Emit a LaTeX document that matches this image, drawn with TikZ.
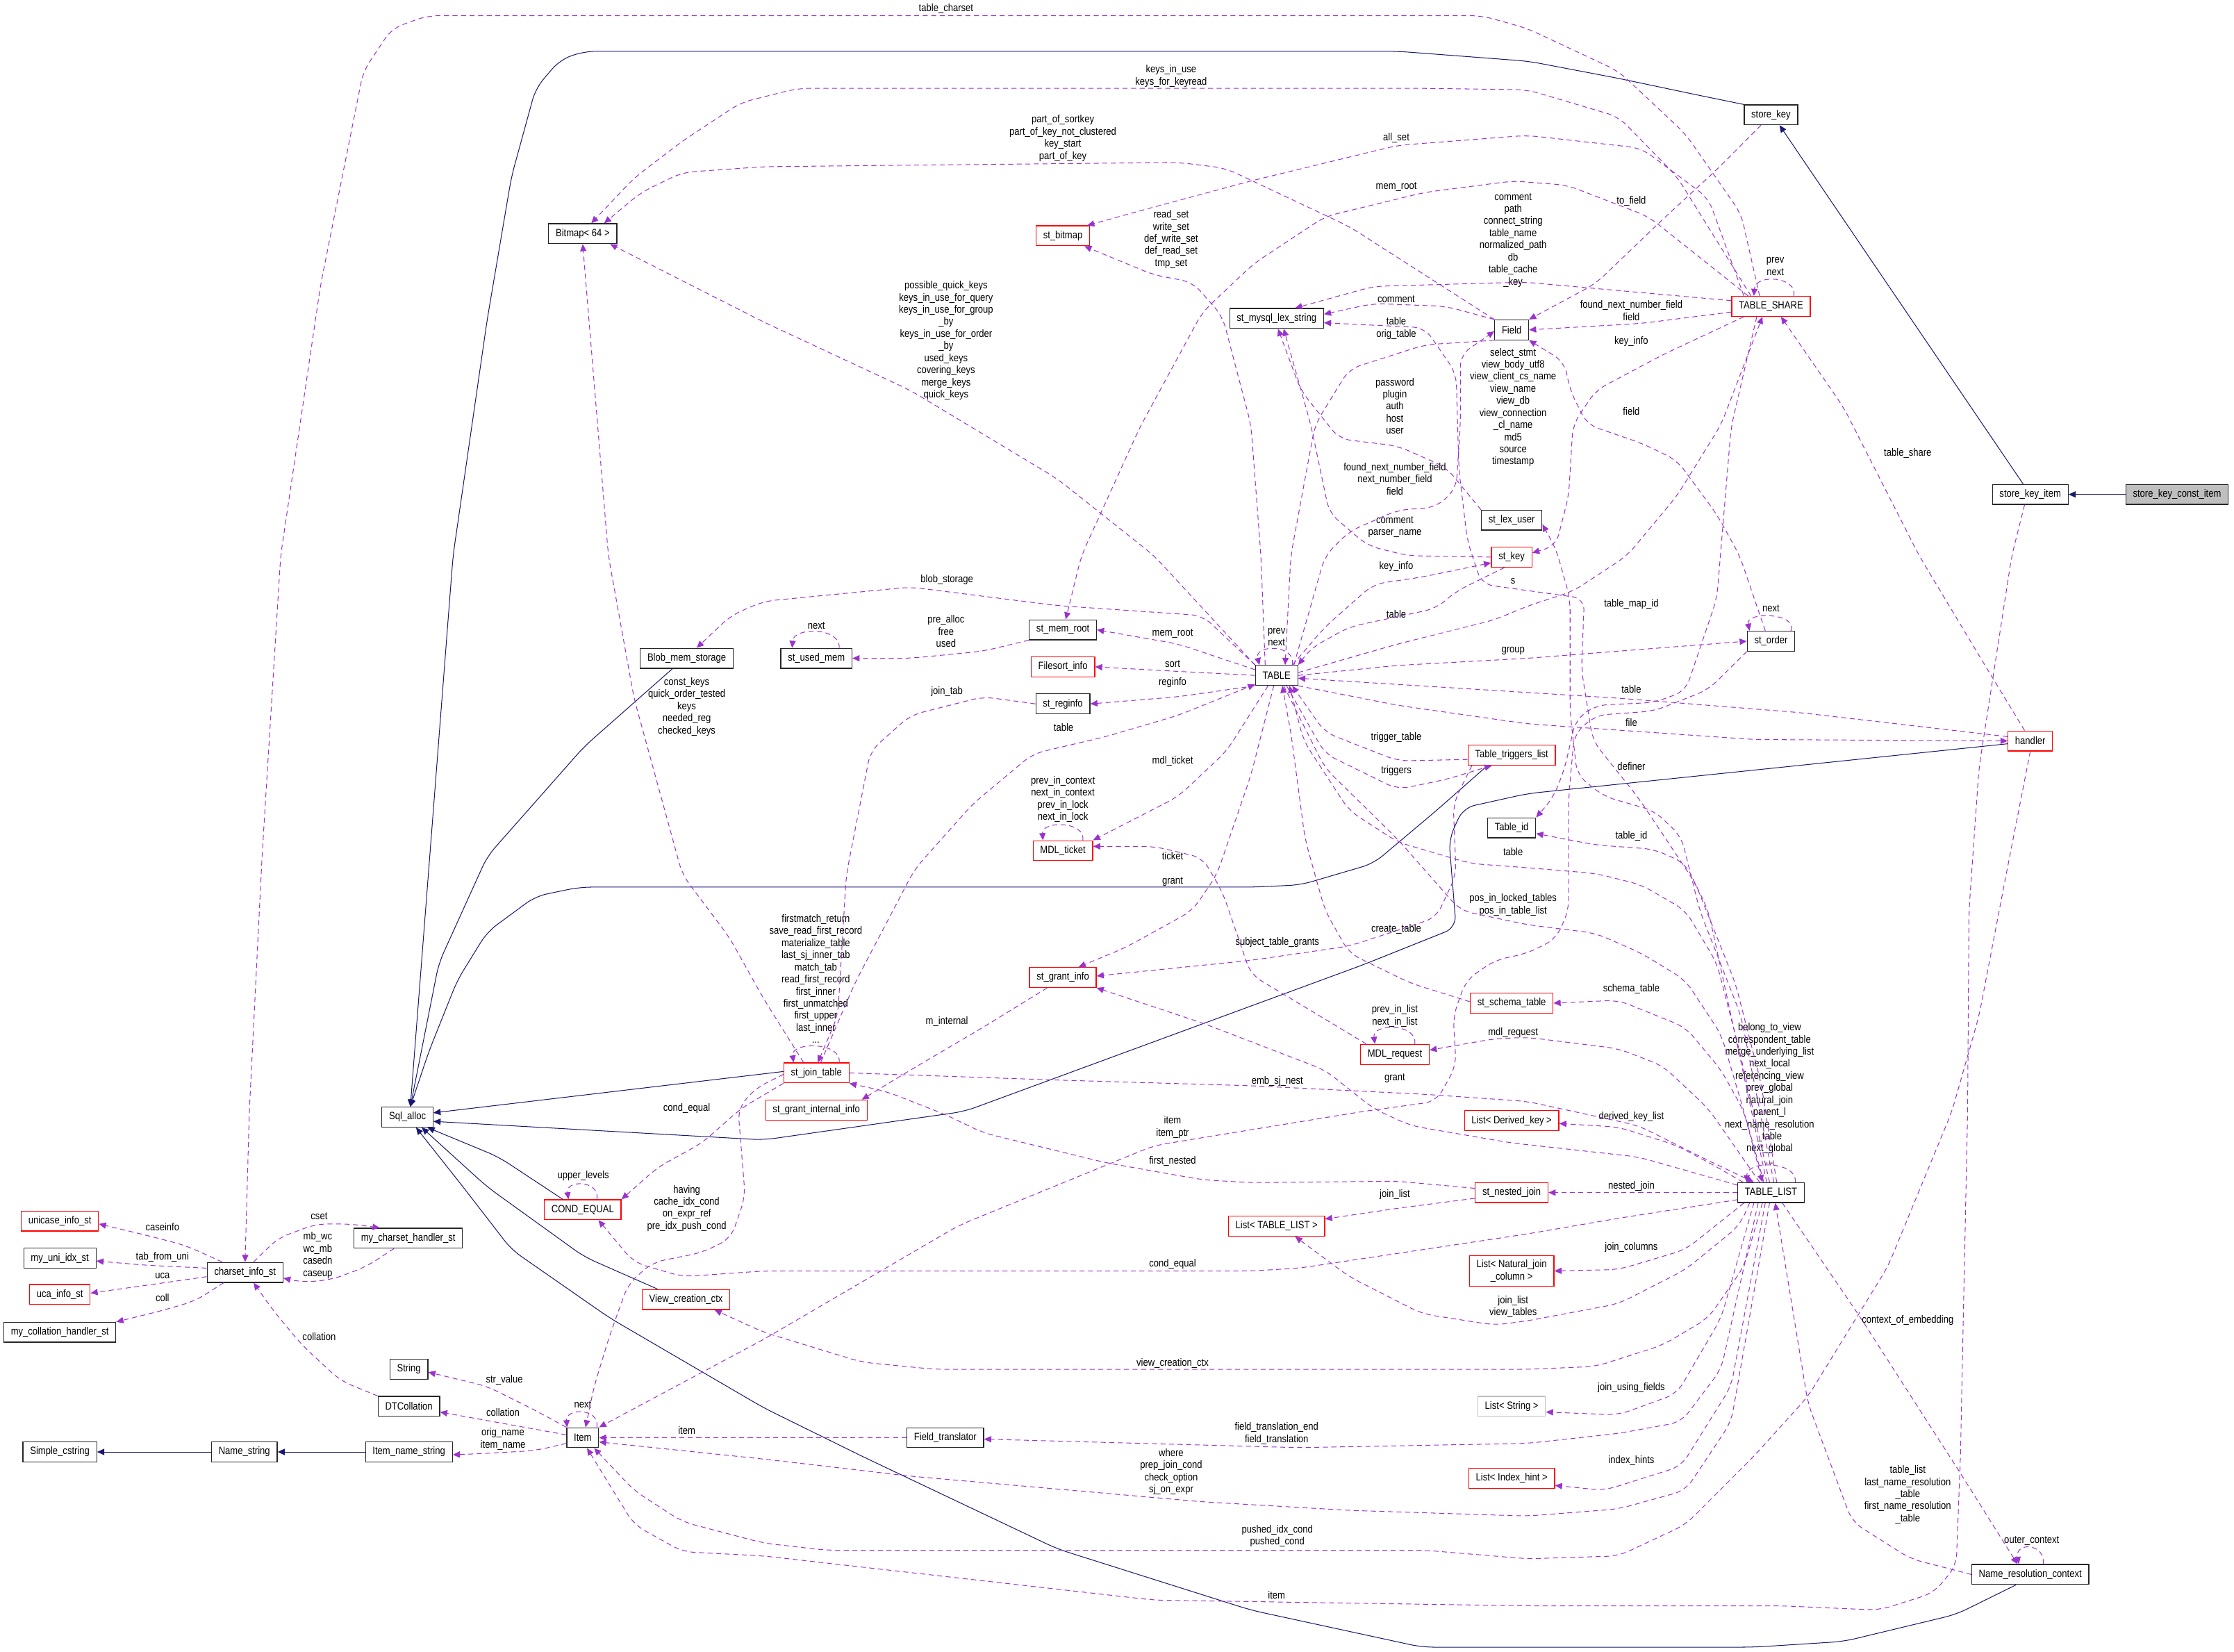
\documentclass[tikz,border=0pt]{standalone}
\usepackage{fontspec}
\setmainfont{Liberation Sans}[FakeStretch=0.86]
\usetikzlibrary{arrows.meta}
\definecolor{memcol}{HTML}{9A32CD}
\definecolor{inhcol}{HTML}{191970}
\definecolor{boxred}{HTML}{FF0000}
\definecolor{boxgray}{HTML}{BFBFBF}

\begin{document}
\begin{tikzpicture}[x=1pt, y=-1pt,
    every node/.style={font=\fontsize{7.4}{8.5}\selectfont},
    cls/.style={draw=black!85, line width=0.6pt, minimum height=14pt, inner xsep=5pt, inner ysep=1pt},
    clsred/.style={cls, draw=boxred},
    lbl/.style={align=center, inner sep=0pt},
    memb/.style={draw=memcol, line width=0.5pt, dash pattern=on 3.5pt off 2.5pt, rounded corners=8pt, -{Triangle[length=5pt, width=4.4pt]}},
    inh/.style={draw=inhcol, line width=0.5pt, rounded corners=8pt, -{Triangle[length=5pt, width=4.4pt]}}]
    \useasboundingbox (0,0) rectangle (1568,1159);

    \node[cls] (bitmap) at (409,164) {Bitmap< 64 >};
    \node[clsred] (stbitmap) at (746,165.5) {st\_bitmap};
    \node[cls] (storekey) at (1243,80.6) {store\_key};
    \node[clsred] (tableshare) at (1243,215) {TABLE\_SHARE};
    \node[cls] (lexstring) at (896,223.5) {st\_mysql\_lex\_string};
    \node[cls] (field) at (1061,231.5) {Field};
    \node[cls] (lexuser) at (1061,365) {st\_lex\_user};
    \node[clsred] (stkey) at (1061,391) {st\_key};
    \node[cls] (storekeyitem) at (1425,347) {store\_key\_item};
    \node[cls, fill=boxgray] (storekeyconst) at (1528,347) {store\_key\_const\_item};
    \node[cls] (memroot) at (746,442) {st\_mem\_root};
    \node[cls] (usedmem) at (573,462) {st\_used\_mem};
    \node[cls] (blobstorage) at (482,462) {Blob\_mem\_storage};
    \node[cls] (table) at (896,474) {TABLE};
    \node[cls] (storder) at (1243,450) {st\_order};
    \node[clsred] (filesort) at (746,468) {Filesort\_info};
    \node[cls] (reginfo) at (746,494) {st\_reginfo};
    \node[clsred] (handler) at (1425,520) {handler};
    \node[clsred] (triggers) at (1061,530) {Table\_triggers\_list};
    \node[cls] (tableid) at (1061,581) {Table\_id};
    \node[clsred] (mdlticket) at (746,597) {MDL\_ticket};
    \node[clsred] (grantinfo) at (746,686) {st\_grant\_info};
    \node[clsred] (schematable) at (1061,704) {st\_schema\_table};
    \node[clsred] (mdlrequest) at (979,740) {MDL\_request};
    \node[clsred] (jointable) at (573,753) {st\_join\_table};
    \node[clsred] (grantinternal) at (573,779) {st\_grant\_internal\_info};
    \node[cls] (sqlalloc) at (286,784) {Sql\_alloc};
    \node[clsred] (derivedkey) at (1061,786.5) {List< Derived\_key >};
    \node[cls] (tablelist) at (1243,837) {TABLE\_LIST};
    \node[clsred] (nestedjoin) at (1061,837) {st\_nested\_join};
    \node[clsred] (condequal) at (409,849) {COND\_EQUAL};
    \node[clsred] (listtablelist) at (896,860.5) {List< TABLE\_LIST >};
    \node[clsred, align=center, inner ysep=3pt] (naturaljoin) at (1061,892) {List< Natural\_join\\\_column >};
    \node[clsred] (unicase) at (42,857) {unicase\_info\_st};
    \node[cls] (uniidx) at (42,883) {my\_uni\_idx\_st};
    \node[cls] (charsetinfo) at (172,893) {charset\_info\_st};
    \node[cls] (charsethandler) at (286.5,869) {my\_charset\_handler\_st};
    \node[clsred] (ucainfo) at (42,908.5) {uca\_info\_st};
    \node[cls] (collhandler) at (42,935) {my\_collation\_handler\_st};
    \node[clsred] (viewctx) at (481.5,912) {View\_creation\_ctx};
    \node[cls] (string) at (287,961) {String};
    \node[cls] (dtcollation) at (287,987) {DTCollation};
    \node[cls] (item) at (409,1009) {Item};
    \node[cls] (simplecstring) at (42,1019) {Simple\_cstring};
    \node[cls] (namestring) at (171.5,1019) {Name\_string};
    \node[cls] (itemnamestring) at (287,1019) {Item\_name\_string};
    \node[cls] (fieldtranslator) at (663.5,1009) {Field\_translator};
    \node[cls, draw=boxgray] (liststring) at (1061,987) {List< String >};
    \node[clsred] (indexhint) at (1061,1037.5) {List< Index\_hint >};
    \node[cls] (nrcontext) at (1425,1105) {Name\_resolution\_context};

    \node[lbl] (ltablecharset) at (664,6) {table\_charset};
    \node[lbl] (lkeysinuse) at (822,53.4) {keys\_in\_use\\keys\_for\_keyread};
    \node[lbl] (lpartofkey) at (746,97) {part\_of\_sortkey\\part\_of\_key\_not\_clustered\\key\_start\\part\_of\_key};
    \node[lbl] (lallset) at (980,97) {all\_set};
    \node[lbl] (lmemroota) at (980,131) {mem\_root};
    \node[lbl] (ltofield) at (1145,141) {to\_field};
    \node[lbl] (lreadset) at (822,168) {read\_set\\write\_set\\def\_write\_set\\def\_read\_set\\tmp\_set};
    \node[lbl] (lsharestr) at (1062,168.6) {comment\\path\\connect\_string\\table\_name\\normalized\_path\\db\\table\_cache\\\_key};
    \node[lbl] (lshareloop) at (1246,187) {prev\\next};
    \node[lbl] (lsharefield) at (1145,218) {found\_next\_number\_field\\field};
    \node[lbl] (lfieldcomment) at (980,210) {comment};
    \node[lbl] (lfieldtable) at (980,230.5) {table\\orig\_table};
    \node[lbl] (lsharekey) at (1145,239.5) {key\_info};
    \node[lbl] (llistview) at (1062,286) {select\_stmt\\view\_body\_utf8\\view\_client\_cs\_name\\view\_name\\view\_db\\view\_connection\\\_cl\_name\\md5\\source\\timestamp};
    \node[lbl] (lquickkeys) at (664,239) {possible\_quick\_keys\\keys\_in\_use\_for\_query\\keys\_in\_use\_for\_group\\\_by\\keys\_in\_use\_for\_order\\\_by\\used\_keys\\covering\_keys\\merge\_keys\\quick\_keys};
    \node[lbl] (luser) at (979,285) {password\\plugin\\auth\\host\\user};
    \node[lbl] (lorderfield) at (1145,288.5) {field};
    \node[lbl] (ltablefield) at (979,336) {found\_next\_number\_field\\next\_number\_field\\field};
    \node[lbl] (ltableshare) at (1339,318) {table\_share};
    \node[lbl] (lkeycomment) at (979,370) {comment\\parser\_name};
    \node[lbl] (ltablekey) at (980,397.5) {key\_info};
    \node[lbl] (ls) at (1062,408) {s};
    \node[lbl] (lkeytable) at (980,431) {table};
    \node[lbl] (lmapid) at (1145,424) {table\_map\_id};
    \node[lbl] (lorderloop) at (1243,427) {next};
    \node[lbl] (lblob) at (664.6,407) {blob\_storage};
    \node[lbl] (lusedloop) at (573,439) {next};
    \node[lbl] (lprealloc) at (664,443) {pre\_alloc\\free\\used};
    \node[lbl] (lmemrootb) at (823,444.5) {mem\_root};
    \node[lbl] (ltableloop) at (896,447) {prev\\next};
    \node[lbl] (lgroup) at (1062,457) {group};
    \node[lbl] (lsort) at (823,466) {sort};
    \node[lbl] (lreginfo) at (823,479) {reginfo};
    \node[lbl] (lhandlertable) at (1145,483.6) {table};
    \node[lbl] (lfile) at (1145,507) {file};
    \node[lbl] (ljointab) at (664.6,485.6) {join\_tab};
    \node[lbl] (lconstkeys) at (482,496) {const\_keys\\quick\_order\_tested\\keys\\needed\_reg\\checked\_keys};
    \node[lbl] (ljointable) at (746.5,510.7) {table};
    \node[lbl] (ltriggertable) at (980,517.8) {trigger\_table};
    \node[lbl] (ltriggers) at (980,541) {triggers};
    \node[lbl] (ldefiner) at (1145,538) {definer};
    \node[lbl] (lmdlticket) at (823,534) {mdl\_ticket};
    \node[lbl] (lticketloop) at (746,561) {prev\_in\_context\\next\_in\_context\\prev\_in\_lock\\next\_in\_lock};
    \node[lbl] (ltableid) at (1145,587) {table\_id};
    \node[lbl] (lticket) at (823,600.6) {ticket};
    \node[lbl] (llisttable) at (1062,598) {table};
    \node[lbl] (lgranta) at (823,619) {grant};
    \node[lbl] (lposin) at (1062,635) {pos\_in\_locked\_tables\\pos\_in\_table\_list};
    \node[lbl] (lcreate) at (980,652) {create\_table};
    \node[lbl] (lsubject) at (896.5,661.6) {subject\_table\_grants};
    \node[lbl] (ljoinloop) at (572.6,687) {firstmatch\_return\\save\_read\_first\_record\\materialize\_table\\last\_sj\_inner\_tab\\match\_tab\\read\_first\_record\\first\_inner\\first\_unmatched\\first\_upper\\last\_inner\\...};
    \node[lbl] (lschema) at (1145,694) {schema\_table};
    \node[lbl] (lminternal) at (664.6,717) {m\_internal};
    \node[lbl] (lrequestloop) at (979,713) {prev\_in\_list\\next\_in\_list};
    \node[lbl] (lmdlrequest) at (1062,725) {mdl\_request};
    \node[lbl] (llistloop) at (1242,767.4) {belong\_to\_view\\correspondent\_table\\merge\_underlying\_list\\next\_local\\referencing\_view\\prev\_global\\natural\_join\\parent\_l\\next\_name\_resolution\\\_table\\next\_global\\...};
    \node[lbl] (lembsj) at (896.5,759) {emb\_sj\_nest};
    \node[lbl] (lgrantb) at (979,757) {grant};
    \node[lbl] (lcondequala) at (482,778) {cond\_equal};
    \node[lbl] (litemptr) at (823,791) {item\\item\_ptr};
    \node[lbl] (lderived) at (1145,784) {derived\_key\_list};
    \node[lbl] (lfirstnested) at (823,815) {first\_nested};
    \node[lbl] (lnestedjoin) at (1145,832.5) {nested\_join};
    \node[lbl] (ljoinlist) at (979,838.6) {join\_list};
    \node[lbl] (lupper) at (409.4,825) {upper\_levels};
    \node[lbl] (lhaving) at (482,848) {having\\cache\_idx\_cond\\on\_expr\_ref\\pre\_idx\_push\_cond};
    \node[lbl] (ljoincols) at (1145,875.5) {join\_columns};
    \node[lbl] (lcondequalb) at (823,887) {cond\_equal};
    \node[lbl] (lviewtables) at (1062,917) {join\_list\\view\_tables};
    \node[lbl] (lcontext) at (1339,926.5) {context\_of\_embedding};
    \node[lbl] (lviewctx) at (823,957) {view\_creation\_ctx};
    \node[lbl] (lcset) at (224,853.5) {cset};
    \node[lbl] (lcaseinfo) at (114,861) {caseinfo};
    \node[lbl] (lmbwc) at (223,881) {mb\_wc\\wc\_mb\\casedn\\caseup};
    \node[lbl] (ltabfromuni) at (114,882) {tab\_from\_uni};
    \node[lbl] (luca) at (114,895.6) {uca};
    \node[lbl] (lcoll) at (114,911) {coll};
    \node[lbl] (lcollationa) at (224,938) {collation};
    \node[lbl] (lstrvalue) at (354,968.6) {str\_value};
    \node[lbl] (lcollationb) at (353,991) {collation};
    \node[lbl] (litemloop) at (409,985.5) {next};
    \node[lbl] (lusing) at (1145,974) {join\_using\_fields};
    \node[lbl] (litemft) at (482,1004) {item};
    \node[lbl] (lfieldtrans) at (896,1006) {field\_translation\_end\\field\_translation};
    \node[lbl] (lorigname) at (353,1010) {orig\_name\\item\_name};
    \node[lbl] (lwhere) at (822,1033) {where\\prep\_join\_cond\\check\_option\\sj\_on\_expr};
    \node[lbl] (lindexhints) at (1145,1025) {index\_hints};
    \node[lbl] (lnrtable) at (1339,1049) {table\_list\\last\_name\_resolution\\\_table\\first\_name\_resolution\\\_table};
    \node[lbl] (lpushed) at (896.5,1078) {pushed\_idx\_cond\\pushed\_cond};
    \node[lbl] (louter) at (1426,1081.6) {outer\_context};
    \node[lbl] (litemkey) at (896,1119.5) {item};

    \draw[inh] (storekeyconst.west) -- (storekeyitem.east);
    \draw[inh] ([xshift=-5pt]storekeyitem.north) -- ([xshift=6pt]storekey.south);
    \draw[inh] (storekey.north west) -- (1193,67) -- (1136,55) -- (1073,43) -- (981,36) -- (410,36) -- (393,42) -- (376,62) -- (359,124) -- (342,224) -- (318,390) -- ([xshift=2pt]sqlalloc.north);
    \draw[inh] ([xshift=-10pt]blobstorage.south) -- (410,524) -- (342,601) -- (308,676) -- ([xshift=2pt]sqlalloc.north);
    \draw[inh] ([xshift=-17pt]triggers.south) -- (1008,569) -- (964,606) -- (913,621) -- (880,622.6) -- (407,622.6) -- (376,629) -- (342,654) -- (321,688) -- (301,738) -- ([xshift=2pt]sqlalloc.north);
    \draw[inh] ([yshift=-2pt]handler.west) -- (1072,557) -- (1027,567) -- (1017,589) -- (1022,651) -- (957,677) -- (677,780) -- (536,800) -- ([yshift=-3pt]sqlalloc.east);
    \draw[inh] ([yshift=1pt]jointable.west) -- ([yshift=3pt]sqlalloc.east);
    \draw[inh] ([xshift=-14pt]condequal.north) -- (350,812) -- ([xshift=14pt]sqlalloc.south);
    \draw[inh] ([xshift=-20pt]viewctx.north) -- (410,882) -- (342,833) -- ([xshift=10pt]sqlalloc.south);
    \draw[inh] ([xshift=-10pt]nrcontext.south) -- (1373,1133) -- (1294,1152) -- (1231,1156) -- (998,1156) -- (878,1130) -- (742,1087) -- (605,1022) -- (536,988) -- (428,925) -- (359,877) -- (325,833) -- ([xshift=6pt]sqlalloc.south);
    \draw[inh] (namestring.west) -- (simplecstring.east);
    \draw[inh] (itemnamestring.west) -- (namestring.east);

    \draw[memb] ([xshift=-8pt]tableshare.north) -- (1222,150) -- (1183,94) -- (1136,50) -- (1072,20) -- (1040,11) -- (300,11) -- (275,20) -- (255,50) -- (225,200) -- (197,390) -- (184,600) -- (175,780) -- (charsetinfo.north);
    \draw[memb] ([xshift=-14pt]tableshare.north) -- (1177,124) -- (1136,82) -- (1072,63) -- (1000,62) -- (560,62) -- (520,72) -- (479,99) -- (445,125) -- ([xshift=6pt]bitmap.north);
    \draw[memb] (field.north west) -- (947,159) -- (860,118) -- (827,114) -- (536,117) -- (479,121) -- (450,135) -- ([xshift=15pt]bitmap.north);
    \draw[memb] ([xshift=-19pt]tableshare.north) -- (1199,139) -- (1152,104) -- (1072,95) -- (981,102) -- (878,127) -- (800,148) -- ([xshift=-2pt]stbitmap.north east);
    \draw[memb] ([xshift=-16pt]tableshare.north) -- (1157,152) -- (1100,130) -- (1062,127) -- (1000,135) -- (930,152) -- (880,185) -- (844,219) -- (800,300) -- (759,390) -- ([xshift=2pt]memroot.north);
    \draw[memb] ([xshift=-7pt]storekey.south) -- (1205,119) -- (1167,154) -- (1120,199) -- (field.north east);
    \draw[memb] ([xshift=-8pt]table.north) -- (885,390) -- (878,298) -- (858,222) -- (837,198) -- (810,193) -- ([xshift=-4pt]stbitmap.south east);
    \draw[memb] ([yshift=4pt]tableshare.west) -- (1070,198) -- (964,201) -- ([xshift=13pt]lexstring.north);
    \draw[memb] ([xshift=16pt]tableshare.north) .. controls (1262,194) and (1232,192) .. ([xshift=-12pt]tableshare.north);
    \draw[memb] ([yshift=-4pt]tableshare.west) -- (1152,227) -- (field.east);
    \draw[memb] (field.north west) -- (1015,215) -- (964,213) -- ([yshift=3pt]lexstring.east);
    \draw[memb] (field.south west) -- (1000,242) -- (947,259) -- (923,298) -- (906,390) -- ([xshift=6pt]table.north);
    \draw[memb] ([xshift=-3pt]table.north east) -- (930,390) -- (947,373) -- (981,358) -- (1008,356) -- (1022,343) -- (1025,298) -- (1025,249) -- ([yshift=-1pt]field.west);
    \draw[memb] (lexuser.north west) -- (1015,328) -- (981,313) -- (940,308) -- (913,274) -- ([xshift=1pt]lexstring.south);
    \draw[memb] (stkey.west) -- (988,390) -- (960,383) -- (933,360) -- (920,298) -- ([xshift=5pt]lexstring.south);
    \draw[memb] ([xshift=11pt]table.north) .. controls (910,452) and (880,452) .. ([xshift=-12pt]table.north);
    \draw[memb] (table.north west) -- (810,390) -- (742,336) -- (639,274) -- (536,226) -- ([xshift=-5pt]bitmap.south east);
    \draw[memb] (table.north west) -- (844,432) -- (742,425) -- (639,412) -- (536,422) -- (513,432) -- ([xshift=7pt]blobstorage.north);
    \draw[memb] ([yshift=4pt]table.west) -- (827,452) -- (memroot.east);
    \draw[memb] (memroot.south west) -- (690,457) -- (639,462) -- (usedmem.east);
    \draw[memb] ([xshift=16pt]usedmem.north) .. controls (590,440) and (557,440) .. ([xshift=-17pt]usedmem.north);
    \draw[memb] (table.west) -- (823,471) -- (filesort.east);
    \draw[memb] (table.south west) -- (827,489) -- (reginfo.east);
    \draw[memb] (reginfo.west) -- (690,489) -- (639,502) -- (611,527) -- (594,614) -- (588,713) -- ([xshift=1pt]jointable.north);
    \draw[memb] ([xshift=3pt]jointable.north) -- (600,690) -- (642,610) -- (683,564) -- (725,529) -- (776,517) -- (827,502) -- ([yshift=1pt]table.south west);
    \draw[memb] ([xshift=-9pt]jointable.north) -- (536,701) -- (512,658) -- (479,614) -- (445,490) -- (427,390) -- (bitmap.south);
    \draw[memb] ([xshift=-6pt]table.south) -- (861,527) -- (827,559) -- (mdlticket.north east);
    \draw[memb] ([xshift=14pt]mdlticket.north) .. controls (762,576) and (731,576) .. ([xshift=-14pt]mdlticket.north);
    \draw[memb] ([xshift=-2pt]table.south) -- (878,544) -- (854,614) -- (837,639) -- (790,665) -- ([xshift=11pt]grantinfo.north);
    \draw[memb] ([xshift=-20pt]mdlrequest.north) -- (878,684) -- (858,626) -- (844,602) -- (810,594) -- ([yshift=3pt]mdlticket.east);
    \draw[memb] ([xshift=14pt]mdlrequest.north) .. controls (995,718) and (963,718) .. ([xshift=-14pt]mdlrequest.north);
    \draw[memb] ([xshift=-11pt]grantinfo.south) -- (690,721) -- (639,751) -- ([xshift=-4pt]grantinternal.north east);
    \draw[memb] ([yshift=-3pt]triggers.west) -- (981,534) -- (930,514) -- ([xshift=11pt]table.south);
    \draw[memb] ([xshift=7pt]table.south) -- (930,529) -- (981,554) -- (1015,547) -- ([xshift=-14pt]triggers.south);
    \draw[memb] ([xshift=3pt]triggers.south west) -- (1020,564) -- (1022,614) -- (1008,644) -- (947,664) -- (878,674) -- ([yshift=1pt]grantinfo.east);
    \draw[memb] ([yshift=1pt]schematable.west) -- (990,690) -- (947,669) -- (930,639) -- (916,589) -- (906,514) -- ([xshift=4pt]table.south);
    \draw[memb] ([xshift=-1pt]tablelist.north) -- (1221,738) -- (1205,676) -- (1183,639) -- (1152,621) -- (1120,613) -- (1072,609) -- (1032,606) -- (981,591) -- (947,569) -- (915,520) -- ([xshift=9pt]table.south);
    \draw[memb] ([xshift=5pt]table.south) -- (930,539) -- (981,589) -- (1025,639) -- (1072,649) -- (1120,655) -- (1152,669) -- (1183,688) -- (1208,726) -- (1224,780) -- ([xshift=-6pt]tablelist.north);
    \draw[memb] ([xshift=-3pt]tablelist.north) -- (1215,713) -- (1199,639) -- (1183,606) -- (1161,596) -- (1120,593) -- ([yshift=-4pt]tableid.east);
    \draw[memb] ([xshift=2pt]tablelist.north) -- (1222,713) -- (1193,639) -- (1180,587) -- (1161,569) -- (1126,559) -- (1107,544) -- (1102,500) -- (1102,420) -- (1092,385) -- ([yshift=-3pt]lexuser.east);
    \draw[memb] ([xshift=4pt]tablelist.north) -- (1236,760) -- (1218,690) -- (1190,620) -- (1150,560) -- (1118,520) -- (1110,470) -- (1112,420) -- (1040,410) -- (1030,380) -- (1024,330) -- (1022,262) -- (1000,230) -- ([yshift=-3pt]lexstring.east);
    \draw[memb] ([xshift=-5pt]tablelist.north) -- (1224,780) -- (1208,751) -- (1183,721) -- (1136,702) -- (schematable.east);
    \draw[memb] ([xshift=-8pt]tablelist.north) -- (1199,778) -- (1167,748) -- (1136,736) -- (1072,728) -- (1049,729) -- ([yshift=3pt]mdlrequest.east);
    \draw[memb] ([yshift=-2pt]tablelist.north west) -- (1150,812) -- (1060,802) -- (990,790) -- (964,778) -- (930,751) -- (844,718) -- (grantinfo.south east);
    \draw[memb] (jointable.east) -- (742,758) -- (878,762) -- (1000,768) -- (1072,773) -- (1150,790) -- (1200,815) -- ([xshift=-12pt]tablelist.north);
    \draw[memb] ([xshift=4pt]tablelist.north west) -- (1205,819) -- (1177,804) -- (1136,791) -- ([yshift=-2pt]derivedkey.east);
    \draw[memb] (tablelist.west) -- (nestedjoin.east);
    \draw[memb] ([xshift=-19pt]tablelist.south) -- (1183,877) -- (1136,891) -- (naturaljoin.east);
    \draw[memb] ([xshift=-15pt]tablelist.south) -- (1221,860) -- (1183,891) -- (1136,915) -- (1072,927) -- (1049,930) -- (998,922) -- (947,896) -- ([xshift=13pt]listtablelist.south);
    \draw[memb] ([yshift=-4pt]nestedjoin.west) -- (981,848) -- ([yshift=5pt]listtablelist.east);
    \draw[memb] ([yshift=3pt]nestedjoin.west) -- (981,829) -- (878,830) -- (844,828) -- (776,816) -- (690,795) -- (663,782) -- (622,766) -- (jointable.south east);
    \draw[memb] (jointable.south west) -- (520,778) -- (493,802) -- (462,819) -- (condequal.north east);
    \draw[memb] ([yshift=-1pt]jointable.west) -- (530,764) -- (518,778) -- (523,840) -- (513,869) -- (493,879) -- (458,886) -- (441,901) -- (428,937) -- (417,973) -- ([xshift=2pt]item.north);
    \draw[memb] ([yshift=-5pt]tablelist.west) -- (1136,855) -- (1072,866) -- (912,890) -- (878,892) -- (536,892) -- (479,896) -- (445,886) -- ([xshift=11pt]condequal.south);
    \draw[memb] ([xshift=-6pt]tablelist.south) -- (1224,889) -- (1199,925) -- (1167,944) -- (1120,959) -- (1072,961) -- (656,961) -- (605,956) -- (536,935) -- ([xshift=20pt]viewctx.south);
    \draw[memb] ([xshift=-12pt]tablelist.south) -- (1208,925) -- (1177,978) -- (1136,993) -- ([yshift=-4pt]liststring.east);
    \draw[memb] ([xshift=-9pt]tablelist.south) -- (1208,961) -- (1180,998) -- (1136,1006) -- (1072,1013) -- (912,1016) -- ([yshift=-1pt]fieldtranslator.east);
    \draw[memb] ([xshift=-4pt]tablelist.south) -- (1215,973) -- (1180,1029) -- (1126,1046) -- ([yshift=-5pt]indexhint.east);
    \draw[memb] ([xshift=-1pt]tablelist.south) -- (1215,998) -- (1183,1046) -- (1136,1059) -- (1072,1064) -- (947,1060) -- (844,1054) -- (639,1036) -- (536,1024) -- ([yshift=-3pt]item.east);
    \draw[memb] ([xshift=8pt]tablelist.south) -- (1306,925) -- (1376,1034) -- ([xshift=-9pt]nrcontext.north);
    \draw[memb] (nrcontext.west) -- (1341,1094) -- (1300,1068) -- (1269,985) -- ([xshift=3pt]tablelist.south);
    \draw[memb] ([xshift=9pt]nrcontext.north) .. controls (1436,1083) and (1414,1082) .. ([xshift=-8pt]nrcontext.north);
    \draw[memb] ([xshift=17pt]tablelist.north) .. controls (1262,815) and (1226,814) .. ([xshift=-17pt]tablelist.north);
    \draw[memb] ([xshift=-4pt]storekeyitem.south) -- (1412,390) -- (1389,539) -- (1382,639) -- (1381,780) -- (1376,1022) -- (1373,1099) -- (1357,1118) -- (1319,1130) -- (1250,1127) -- (1072,1127) -- (810,1123) -- (536,1092) -- (479,1089) -- (445,1070) -- ([xshift=3pt]item.south);
    \draw[memb] (handler.south) -- (1408,614) -- (1389,713) -- (1370,780) -- (1325,889) -- (1269,980) -- (1231,1022) -- (1183,1070) -- (1136,1092) -- (1072,1094) -- (1000,1088) -- (580,1088) -- (536,1083) -- (479,1068) -- (445,1046) -- ([xshift=8pt]item.south);
    \draw[memb] (storder.south west) -- (1199,484) -- (1161,499) -- (1120,502) -- (1105,515) -- (1101,560) -- (1101,639) -- (1092,659) -- (1072,669) -- (1049,674) -- (1029,688) -- (1020,713) -- (1022,748) -- (1008,773) -- (957,780) -- (810,804) -- (673,860) -- (536,940) -- (item.north east);
    \draw[memb] ([xshift=-4pt]storder.north) -- (1221,390) -- (1205,361) -- (1177,323) -- (1152,311) -- (1114,298) -- (1102,274) -- (1098,254) -- (field.south east);
    \draw[memb] ([xshift=14pt]storder.north) .. controls (1262,430) and (1225,429) .. ([xshift=-15pt]storder.north);
    \draw[memb] ([xshift=-10pt]tableshare.south) -- (1215,300) -- (1205,420) -- (1183,485) -- (1161,493) -- (1120,495) -- (1106,505) -- (1098,540) -- (1090,560) -- (tableid.north east);
    \draw[memb] ([xshift=-19pt]tableshare.south) -- (1167,249) -- (1120,274) -- (1104,298) -- (1101,348) -- (1092,383) -- ([yshift=3pt]stkey.east);
    \draw[memb] ([yshift=2pt]table.east) -- (981,452) -- (1049,435) -- (1073,425) -- (1104,415) -- (1142,390) -- (1177,348) -- (1208,298) -- ([xshift=-6pt]tableshare.south);
    \draw[memb] ([xshift=-4pt]table.north east) -- (930,440) -- (964,410) -- (998,405) -- ([yshift=-4pt]stkey.west);
    \draw[memb] ([xshift=-5pt]stkey.south) -- (1022,415) -- (1008,427) -- (947,440) -- (920,455) -- (table.north east);
    \draw[memb] (table.east) -- (981,467) -- (1072,462) -- (1136,457) -- (storder.west);
    \draw[memb] ([yshift=3pt]handler.west) -- (1262,500) -- (1136,490) -- (1072,486) -- ([yshift=-2pt]table.east);
    \draw[memb] (table.south east) -- (981,495) -- (1072,508) -- (1231,519) -- (handler.west);
    \draw[memb] ([xshift=-4pt]handler.north) -- (1389,460) -- (1347,390) -- (1294,286) -- ([xshift=7pt]tableshare.south);
    \draw[memb] (fieldtranslator.west) -- (item.east);
    \draw[memb] (item.north west) -- (376,990) -- (342,973) -- ([yshift=-2pt]string.east);
    \draw[memb] ([yshift=2pt]item.west) -- (342,997) -- ([yshift=-4pt]dtcollation.east);
    \draw[memb] ([yshift=-4pt]item.west) -- (376,1018) -- (342,1020) -- ([yshift=-2pt]itemnamestring.east);
    \draw[memb] ([xshift=10pt]item.north) .. controls (421,988) and (397,988) .. ([xshift=-11pt]item.north);
    \draw[memb] (dtcollation.north west) -- (239,969) -- (212,944) -- (192,920) -- ([xshift=6pt]charsetinfo.south);
    \draw[memb] ([xshift=-16pt]charsetinfo.north) -- (130,874) -- (103,867) -- ([yshift=-2pt]unicase.east);
    \draw[memb] ([yshift=3pt]charsetinfo.west) -- (103,888) -- ([yshift=-2pt]uniidx.east);
    \draw[memb] ([yshift=-3pt]charsetinfo.west) -- (103,902) -- ([yshift=1pt]ucainfo.east);
    \draw[memb] ([xshift=-15pt]charsetinfo.south) -- (137,913) -- (113,920) -- (collhandler.north east);
    \draw[memb] ([xshift=6pt]charsetinfo.north) -- (195,869) -- (222,859) -- (246,859) -- ([xshift=-20pt]charsethandler.north);
    \draw[memb] ([xshift=-10pt]charsethandler.south) -- (257,889) -- (233,898) -- (212,900) -- ([yshift=-4pt]charsetinfo.east);
    \draw[memb] ([xshift=10pt]condequal.north) .. controls (421,828) and (397,828) .. ([xshift=-10pt]condequal.north);
    \draw[memb] ([xshift=16pt]jointable.north) .. controls (591,731) and (555,731) .. ([xshift=-16pt]jointable.north);
\end{tikzpicture}
\end{document}
